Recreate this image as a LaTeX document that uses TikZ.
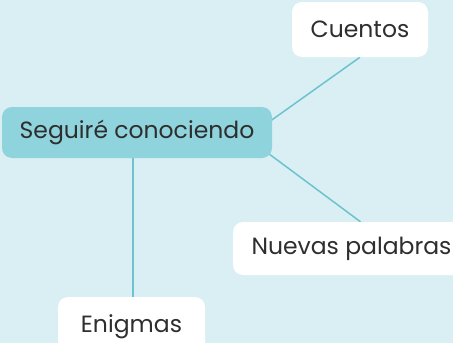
\documentclass[tikz,border=0pt]{standalone}
\usepackage{fontspec}
\setmainfont{Poppins}
\usetikzlibrary{backgrounds}
\definecolor{bgcyan}{HTML}{DAEFF3}
\definecolor{hubcyan}{HTML}{8FD3DC}
\definecolor{linkcyan}{HTML}{6CC3CF}
\definecolor{textgray}{HTML}{2E2E2E}
\tikzset{
  topic/.style={rectangle, rounded corners=10pt, fill=white, text=textgray, font=\fontsize{23.5}{27}\selectfont, inner sep=0pt},
  hub/.style={topic, fill=hubcyan},
  link/.style={draw=linkcyan, line width=1.5pt}
}
\begin{document}
\begin{tikzpicture}[x=1pt,y=-1pt]
  \useasboundingbox (0,0) rectangle (453,343);
  \clip (0,0) rectangle (453,343);
  \node[hub, minimum width=270pt, minimum height=51pt] (central) at (137,132.5) {Seguiré conociendo};
  \node[topic, minimum width=136pt, minimum height=55pt] (cuentos) at (360,29.5) {Cuentos};
  \node[topic, minimum width=237pt, minimum height=53pt] (nuevas) at (351.5,248.5) {Nuevas palabras};
  \node[topic, minimum width=147pt, minimum height=60pt] (enigmas) at (131.5,327) {Enigmas};
  \begin{scope}[on background layer]
    \fill[bgcyan] (0,0) rectangle (453,343);
    \draw[link] (cuentos.south) -- ([xshift=-18pt]central.east);
    \draw[link] ([xshift=9pt]nuevas.north) -- ([xshift=-32pt]central.east);
    \draw[link] ([xshift=1.5pt]enigmas.north) -- ([xshift=1.5pt]enigmas.north |- central.south);
  \end{scope}
\end{tikzpicture}
\end{document}
